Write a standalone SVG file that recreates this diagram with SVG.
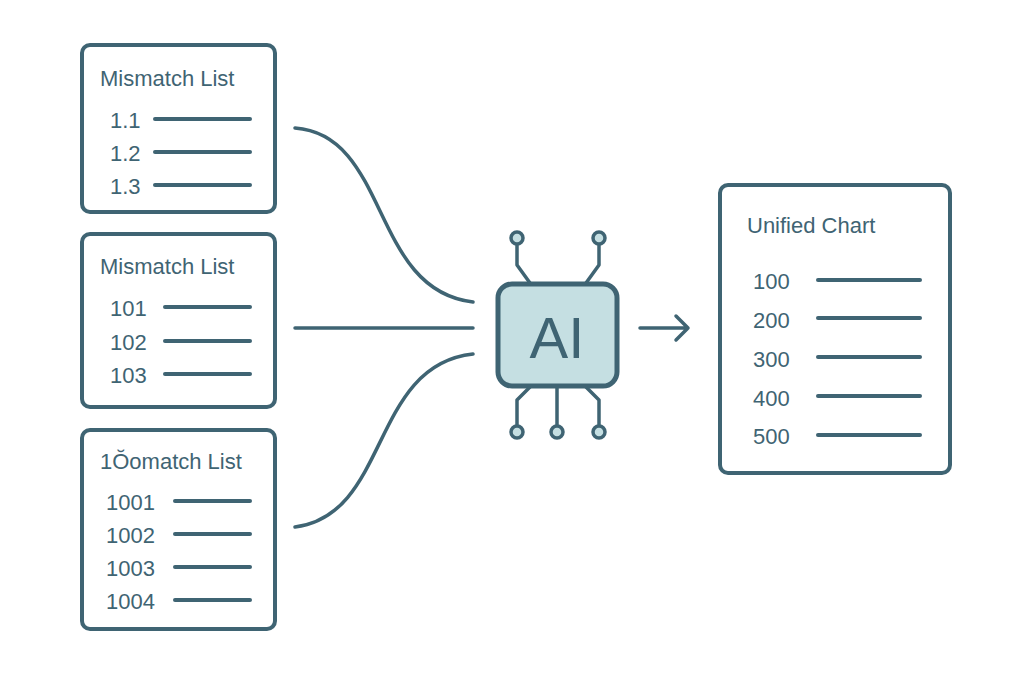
<svg xmlns="http://www.w3.org/2000/svg" width="1024" height="683" viewBox="0 0 1024 683">
<style>
.box{fill:#fff;stroke:#3f6473;stroke-width:4}
.t{font-family:"Liberation Sans",Arial,sans-serif;fill:#3f6473;font-size:22px}
.n{font-family:"Liberation Sans",Arial,sans-serif;fill:#3f6473;font-size:22px}
.ln{stroke:#3f6473;stroke-width:4;stroke-linecap:round}
.c{fill:none;stroke:#3f6473;stroke-width:3.5;stroke-linecap:round;stroke-linejoin:round}
.pin{fill:#c5dfe2;stroke:#3f6473;stroke-width:3.5}
</style>
<rect width="1024" height="683" fill="#fff"/>
<g id="list1">
<rect class="box" x="82" y="45" width="193" height="167" rx="8"/>
<text class="t" x="100" y="86">Mismatch List</text>
<text class="n" x="110" y="128">1.1</text><line class="ln" x1="155" y1="119" x2="250" y2="119"/>
<text class="n" x="110" y="161">1.2</text><line class="ln" x1="155" y1="152" x2="250" y2="152"/>
<text class="n" x="110" y="194">1.3</text><line class="ln" x1="155" y1="185" x2="250" y2="185"/>
</g>
<g id="list2">
<rect class="box" x="82" y="234" width="193" height="173" rx="8"/>
<text class="t" x="100" y="274">Mismatch List</text>
<text class="n" x="110" y="316">101</text><line class="ln" x1="165" y1="307" x2="250" y2="307"/>
<text class="n" x="110" y="350">102</text><line class="ln" x1="165" y1="341" x2="250" y2="341"/>
<text class="n" x="110" y="383">103</text><line class="ln" x1="165" y1="374" x2="250" y2="374"/>
</g>
<g id="list3">
<rect class="box" x="82" y="430" width="193" height="199" rx="8"/>
<text class="t" x="100" y="469">1Ŏomatch List</text>
<text class="n" x="106" y="510">1001</text><line class="ln" x1="175" y1="501" x2="250" y2="501"/>
<text class="n" x="106" y="543">1002</text><line class="ln" x1="175" y1="534" x2="250" y2="534"/>
<text class="n" x="106" y="576">1003</text><line class="ln" x1="175" y1="567" x2="250" y2="567"/>
<text class="n" x="106" y="609">1004</text><line class="ln" x1="175" y1="600" x2="250" y2="600"/>
</g>
<g id="connectors">
<path class="c" d="M295 128 C390 135 370 290 473 302"/>
<path class="c" d="M295 328 L473 328"/>
<path class="c" d="M295 527 C390 515 370 365 473 354"/>
<path class="c" d="M640 328 L688 328 M676 316 L688 328 L676 340"/>
</g>
<g id="ai">
<path class="c" d="M517 244 V265 L530 283 M599 244 V265 L586 283 M530 387 L517 400 V426 M557 387 V426 M586 387 L599 400 V426"/>
<circle class="pin" cx="517" cy="238" r="6"/><circle class="pin" cx="599" cy="238" r="6"/>
<circle class="pin" cx="517" cy="432" r="6"/><circle class="pin" cx="557" cy="432" r="6"/><circle class="pin" cx="599" cy="432" r="6"/>
<rect x="498" y="284" width="119" height="102" rx="14" fill="#c5dfe2" stroke="#3f6473" stroke-width="5"/>
<text x="557" y="358" text-anchor="middle" font-family="Liberation Sans,Arial,sans-serif" font-size="58" fill="#3f6473">AI</text>
</g>
<g id="chart">
<rect class="box" x="720" y="185" width="230" height="288" rx="8"/>
<text class="t" x="747" y="233" font-size="24">Unified Chart</text>
<text class="n" x="753" y="289">100</text><line class="ln" x1="818" y1="280" x2="920" y2="280"/>
<text class="n" x="753" y="328">200</text><line class="ln" x1="818" y1="318" x2="920" y2="318"/>
<text class="n" x="753" y="367">300</text><line class="ln" x1="818" y1="357" x2="920" y2="357"/>
<text class="n" x="753" y="406">400</text><line class="ln" x1="818" y1="396" x2="920" y2="396"/>
<text class="n" x="753" y="444">500</text><line class="ln" x1="818" y1="435" x2="920" y2="435"/>
</g>
</svg>
